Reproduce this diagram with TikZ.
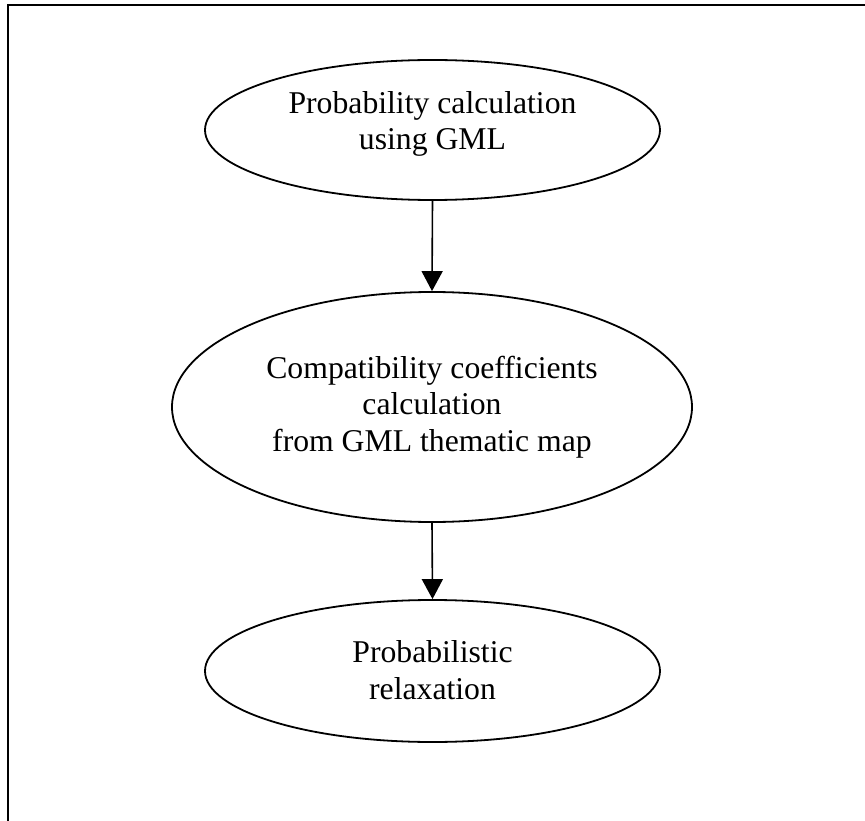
\documentclass[tikz,border=0pt]{standalone}
\usepackage{fontspec}
\setmainfont{Liberation Serif}
\usetikzlibrary{shapes.geometric,arrows.meta}
\begin{document}
\begin{tikzpicture}[x=1pt,y=-1pt,
  stage/.style={ellipse,draw,line width=1.8pt,inner sep=0pt},
  caption/.style={align=center,inner sep=0pt,
    font=\fontsize{31.7}{36.5}\selectfont},
  flow/.style={line width=1.6pt,-{Triangle[width=21pt,length=20pt]}},
  frame/.style={line width=2.6pt}]
  \useasboundingbox (0,0) rectangle (865,821);
  % page frame (top and left edges)
  \coordinate (fl) at (8,821);
  \coordinate (fc) at (8,5);
  \coordinate (fr) at (866,5);
  \draw[frame] (fl) -- (fc) -- (fr);
  % processing stages
  \node[stage,minimum width=455pt,minimum height=140pt] (prob) at (432.5,130) {};
  \node[caption] (probtxt) at ([yshift=6pt]prob.center)
    {Probability calculation\\using GML};
  \node[stage,minimum width=520pt,minimum height=230pt] (comp) at (432,407) {};
  \node[caption] (comptxt) at (comp.center)
    {Compatibility coefficients\\calculation\\ from GML thematic map};
  \node[stage,minimum width=455pt,minimum height=142pt] (relax) at (432.5,671) {};
  \node[caption] (relaxtxt) at ([yshift=1pt]relax.center)
    {Probabilistic\\relaxation};
  % flow between stages
  \draw[flow] (prob.south) -- (comp.north);
  \draw[flow] (comp.south) -- (relax.north);
\end{tikzpicture}
\end{document}
